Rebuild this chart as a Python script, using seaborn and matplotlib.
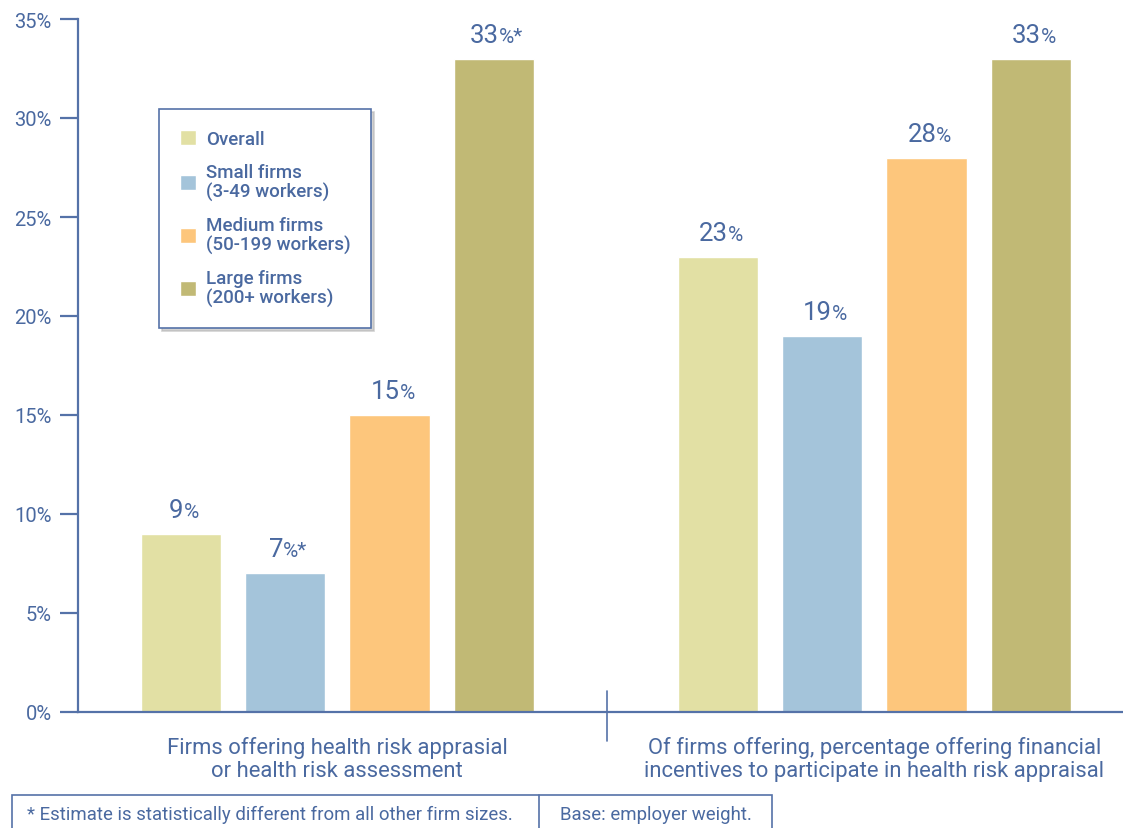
import matplotlib
matplotlib.use("Agg")
import matplotlib.pyplot as plt
import seaborn as sns
import pandas as pd
from matplotlib.patches import Rectangle
from matplotlib.lines import Line2D

categories = ["Firms offering health risk apprasial\nor health risk assessment",
              "Of firms offering, percentage offering financial\nincentives to participate in health risk appraisal"]
series = ["Overall", "Small firms\n(3-49 workers)", "Medium firms\n(50-199 workers)", "Large firms\n(200+ workers)"]
values = {
    "Overall": [9, 23],
    "Small firms\n(3-49 workers)": [7, 19],
    "Medium firms\n(50-199 workers)": [15, 28],
    "Large firms\n(200+ workers)": [33, 33],
}
stars = {
    "Overall": ["", ""],
    "Small firms\n(3-49 workers)": ["*", ""],
    "Medium firms\n(50-199 workers)": ["", ""],
    "Large firms\n(200+ workers)": ["*", ""],
}
colors = ["#e2e0a4", "#a4c4da", "#fdc67c", "#c1b975"]
yticks = [0, 5, 10, 15, 20, 25, 30, 35]

TXT = "#4a69a0"
AX = "#5572a8"

rows = []
for s in series:
    for c, v in zip(categories, values[s]):
        rows.append({"category": c, "series": s, "value": v})
df = pd.DataFrame(rows)

sns.set_theme(style="white")
plt.rcParams["font.family"] = ["Roboto", "DejaVu Sans"]

fig = plt.figure(figsize=(11.23, 8.29), dpi=100)
ax = fig.add_axes([78 / 1123, 1 - 713 / 829, 1 - 78 / 1123, (713 - 20) / 829])

sns.barplot(data=df, x="category", y="value", hue="series", hue_order=series,
            order=categories, palette=colors, width=0.777, gap=0.23,
            saturation=1, ax=ax, legend=True)

ax.set_xlim(-0.483, 1.463)
ax.set_ylim(0, 35)
ax.set_yticks(yticks)
ax.set_yticklabels([f"{t}%" for t in yticks], fontsize=14.5, color=TXT)
ax.tick_params(axis="y", direction="out", length=13, width=1.6, color=AX, pad=6, left=True)
ax.set_xticks([0, 1])
ax.set_xticklabels(categories, fontsize=15.8, color=TXT, linespacing=1.15)
ax.tick_params(axis="x", length=0, pad=17)
ax.set_xlabel("")
ax.set_ylabel("")
for sp in ["top", "right"]:
    ax.spines[sp].set_visible(False)
for sp in ["left", "bottom"]:
    ax.spines[sp].set_color(AX)
    ax.spines[sp].set_linewidth(1.6)

# value labels: big number + smaller "%", centered together over each bar
pairs = []
for container, s in zip(ax.containers, series):
    for bar, v, st in zip(container, values[s], stars[s]):
        cx = bar.get_x() + bar.get_width() / 2
        top = bar.get_height()
        t1 = ax.annotate(f"{v}", (cx, top), xytext=(0, 17), textcoords="offset pixels",
                         ha="left", va="baseline", fontsize=18.5, color=TXT)
        t2 = ax.annotate(f"%{st}", (cx, top), xytext=(0, 17), textcoords="offset pixels",
                         ha="left", va="baseline", fontsize=15, color=TXT)
        pairs.append((t1, t2))

fig.canvas.draw()
r = fig.canvas.get_renderer()
for t1, t2 in pairs:
    w1 = t1.get_window_extent(r).width
    w2 = t2.get_window_extent(r).width
    tot = w1 + w2
    t1.xyann = (-tot / 2 + 3, 17)
    t2.xyann = (-tot / 2 + 3 + w1, 17)

# legend
handles, labels = ax.get_legend_handles_labels()
leg = ax.legend(handles, labels, loc="upper left", bbox_to_anchor=(0.0775, 0.870),
                borderaxespad=0, frameon=True, fancybox=False,
                shadow={"color": "#b5b5b5", "alpha": 0.6},
                edgecolor=AX, prop={"size": 13.5, "weight": "medium"}, labelcolor=TXT,
                handlelength=0.85, handleheight=0.85, handletextpad=0.55,
                labelspacing=0.8, borderpad=1.1, framealpha=1)
leg.get_frame().set_linewidth(1.2)
for t in leg.get_texts():
    t.set_linespacing(1.08)

# group divider
fig.add_artist(Line2D([607 / 1123, 607 / 1123], [1 - 742 / 829, 1 - 692 / 829],
                      color=AX, lw=1.2))

# footnote box
fig.add_artist(Rectangle((12 / 1123, -0.01), (772 - 12) / 1123, 0.01 + 33 / 829,
                         fill=False, edgecolor=AX, lw=1.2, transform=fig.transFigure))
fig.add_artist(Line2D([539 / 1123, 539 / 1123], [0, 33 / 829], color=AX, lw=1.2))
fig.text(270 / 1123, 1 - 815 / 829, "* Estimate is statistically different from all other firm sizes.",
         ha="center", va="center", fontsize=13.4, color=TXT)
fig.text(656 / 1123, 1 - 815 / 829, "Base: employer weight.",
         ha="center", va="center", fontsize=13.4, color=TXT)

fig.savefig("out.png", dpi=100)
